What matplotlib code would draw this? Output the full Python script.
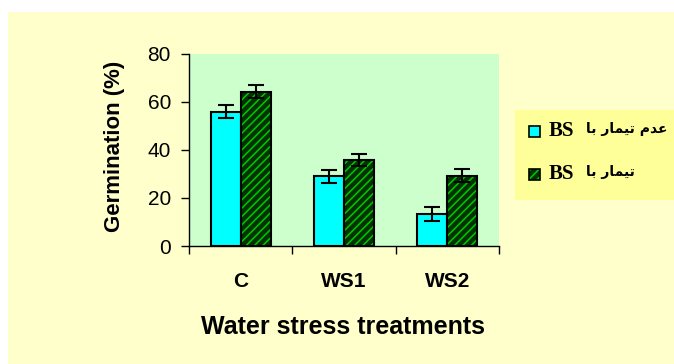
#!/usr/bin/env python3
"""Germination under water stress, with and without BS treatment."""

import matplotlib

matplotlib.use("Agg")
import matplotlib.pyplot as plt
import numpy as np
from matplotlib.patches import Rectangle

categories = ["C", "WS1", "WS2"]
untreated = [55.8, 28.9, 13.3]
treated = [64.2, 35.8, 29.2]
untreated_err = [2.6, 2.6, 2.8]
treated_err = [2.6, 2.6, 2.6]
legend_labels = ["عدم تیمار با BS", "تیمار با BS"]
y_ticks = [0, 20, 40, 60, 80]

W, H = 674, 364

# matplotlib does no Arabic shaping, so pick presentation forms by hand
FORMS = {
    # isolated, final, initial, medial
    "ع": ("\uFEC9", "\uFECA", "\uFECB", "\uFECC"),
    "د": ("\uFEA9", "\uFEAA", None, None),
    "م": ("\uFEE1", "\uFEE2", "\uFEE3", "\uFEE4"),
    "ت": ("\uFE95", "\uFE96", "\uFE97", "\uFE98"),
    "ی": ("\uFBFC", "\uFBFD", "\uFBFE", "\uFBFF"),
    "ا": ("\uFE8D", "\uFE8E", None, None),
    "ر": ("\uFEAD", "\uFEAE", None, None),
    "ب": ("\uFE8F", "\uFE90", "\uFE91", "\uFE92"),
}


def joins_left(ch: str) -> bool:
    return ch in FORMS and FORMS[ch][2] is not None


def shape_word(word: str) -> str:
    if not any(ch in FORMS for ch in word):
        return word
    out = []
    for i, ch in enumerate(word):
        if ch not in FORMS:
            out.append(ch)
            continue
        prev_join = i > 0 and joins_left(word[i - 1])
        next_join = i + 1 < len(word) and word[i + 1] in FORMS and joins_left(ch)
        iso, fin, ini, med = FORMS[ch]
        if prev_join and next_join:
            out.append(med)
        elif prev_join:
            out.append(fin)
        elif next_join:
            out.append(ini)
        else:
            out.append(iso)
    return "".join(reversed(out))


def visual(text: str) -> str:
    return " ".join(shape_word(w) for w in reversed(text.split()))


fig = plt.figure(figsize=(W / 100, H / 100), dpi=100, facecolor="white")
fig.patches.append(
    Rectangle((8 / W, 0), 1 - 8 / W, 1 - 12 / H, transform=fig.transFigure,
              facecolor="#FFFFCC", edgecolor="none", zorder=-5)
)

ax = fig.add_axes([189 / W, (H - 246) / H, 310 / W, 192.5 / H])
ax.set_facecolor("#CCFFCC")

x = np.arange(len(categories))
bw = 0.29
plt.rcParams["hatch.linewidth"] = 1.1

ax.bar(x - bw / 2, untreated, bw, color="#00FFFF", edgecolor="black", linewidth=1.5, zorder=2)
ax.bar(x + bw / 2, treated, bw, color="#003300", edgecolor="#00c800", hatch="////",
       linewidth=0, zorder=2)
ax.bar(x + bw / 2, treated, bw, fill=False, edgecolor="black", linewidth=1.5, zorder=3)

ax.errorbar(x - bw / 2, untreated, yerr=untreated_err, fmt="none", ecolor="black",
            elinewidth=1.5, capsize=6, capthick=1.5, zorder=4)
ax.errorbar(x + bw / 2, treated, yerr=treated_err, fmt="none", ecolor="black",
            elinewidth=1.5, capsize=6, capthick=1.5, zorder=4)

ax.set_xlim(-0.5, len(categories) - 0.5)
ax.set_ylim(0, 80)
ax.set_yticks(y_ticks)
ax.set_xticks(x)
ax.set_xticks(np.arange(len(categories) + 1) - 0.5, minor=True)
ax.set_xticklabels(categories, fontsize=15, fontweight="bold", family="Liberation Sans")
for lab in ax.get_yticklabels():
    lab.set_fontsize(15)
    lab.set_family("Liberation Sans")
ax.tick_params(axis="x", which="major", length=0, pad=19)
ax.tick_params(axis="x", which="minor", length=6, width=1, direction="out")
ax.tick_params(axis="y", length=6, width=1, direction="out", pad=7)

for side in ("top", "right"):
    ax.spines[side].set_visible(False)
for side in ("left", "bottom"):
    ax.spines[side].set_linewidth(1)

ax.set_ylabel("Germination (%)", fontsize=16, fontweight="bold", family="Liberation Sans")
ax.yaxis.label.set_va("center")
ax.yaxis.set_label_coords(-0.239, 0.52)
ax.set_xlabel("Water stress treatments", fontsize=18, fontweight="bold",
              family="Liberation Sans")
ax.xaxis.label.set_va("center")
ax.xaxis.set_label_coords(0.497, -0.42)

# legend box drawn by hand on the right
fig.patches.append(
    Rectangle((515 / W, (H - 200) / H), (W - 515) / W, 90 / H, transform=fig.transFigure,
              facecolor="#FFFF99", edgecolor="none", zorder=1)
)
rows = [131, 174]
styles = [
    dict(facecolor="#00FFFF", edgecolor="black", linewidth=1.2),
    dict(facecolor="#003300", edgecolor="#00c800", hatch="////", linewidth=0),
]
for yc, label, style in zip(rows, legend_labels, styles):
    fig.patches.append(
        Rectangle((529 / W, (H - yc - 5.5) / H), 11 / W, 11 / H, transform=fig.transFigure,
                  zorder=2, **style)
    )
    if "hatch" in style:
        fig.patches.append(
            Rectangle((529 / W, (H - yc - 5.5) / H), 11 / W, 11 / H,
                      transform=fig.transFigure, fill=False, edgecolor="black",
                      linewidth=1.2, zorder=3)
        )
    latin, arabic = visual(label).split(" ", 1)
    fig.text(549 / W, (H - yc) / H, latin, fontsize=15, fontweight="bold",
             family="Liberation Serif", va="center", ha="left", zorder=4)
    fig.text(586 / W, (H - yc + 2) / H, arabic, fontsize=10, fontweight="bold",
             family="DejaVu Sans", va="center", ha="left", zorder=4)

fig.savefig("out.png", dpi=100, facecolor=fig.get_facecolor())
